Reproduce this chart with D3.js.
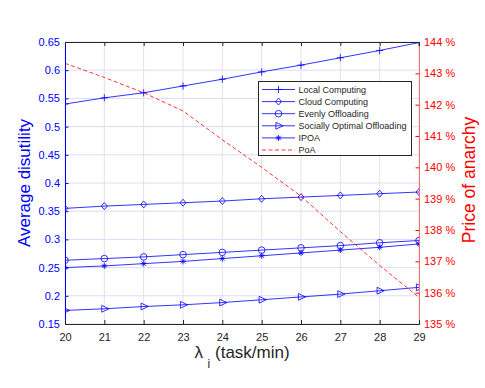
<!DOCTYPE html>
<html>
<head>
<meta charset="utf-8">
<script src="https://cdn.jsdelivr.net/npm/d3@7"></script>
<style>
  html, body { margin: 0; padding: 0; background: #fff; }
  svg { display: block; font-family: "Liberation Sans", Arial, sans-serif; }
</style>
</head>
<body>
<svg id="chart" width="485" height="388"></svg>
<script>
// ---- data ----
const lambdas = [20, 21, 22, 23, 24, 25, 26, 27, 28, 29];
const localComputing   = [0.540, 0.551, 0.560, 0.572, 0.584, 0.597, 0.609, 0.622, 0.635, 0.649];
const cloudComputing   = [0.355, 0.359, 0.362, 0.365, 0.368, 0.372, 0.375, 0.378, 0.381, 0.384];
const evenlyOffloading = [0.263, 0.266, 0.269, 0.273, 0.277, 0.281, 0.285, 0.289, 0.294, 0.298];
const sociallyOptimal  = [0.174, 0.177, 0.181, 0.184, 0.188, 0.193, 0.198, 0.203, 0.209, 0.215];
const ipoa             = [0.250, 0.253, 0.257, 0.261, 0.266, 0.271, 0.276, 0.281, 0.286, 0.292];
const poa              = [143.32, 142.87, 142.38, 141.80, 140.88, 140.00, 139.08, 137.95, 136.87, 135.85];
const seriesNames = ["Local Computing", "Cloud Computing", "Evenly Offloading", "Socially Optimal Offloading", "IPOA", "PoA"];
const xTicks = [20, 21, 22, 23, 24, 25, 26, 27, 28, 29];
const yLeftTicks = [0.15, 0.2, 0.25, 0.3, 0.35, 0.4, 0.45, 0.5, 0.55, 0.6, 0.65];
const yRightTicks = [135, 136, 137, 138, 139, 140, 141, 142, 143, 144];

// ---- layout ----
const L = 65, R = 419, T = 42, B = 324;
const svg = d3.select("#chart");
const x = d3.scaleLinear().domain([20, 29]).range([L, R]);
const yL = d3.scaleLinear().domain([0.15, 0.65]).range([B, T]);
const yR = d3.scaleLinear().domain([135, 144]).range([B, T]);

const BLUE = "#0000ff", RED = "#ff0000", DARK = "#262626";

// clip
svg.append("defs").append("clipPath").attr("id", "clip")
  .append("rect").attr("x", L).attr("y", T).attr("width", R - L).attr("height", B - T);

// grid
const grid = svg.append("g");
grid.selectAll(".vg").data(xTicks).join("line")
  .attr("x1", d => x(d)).attr("x2", d => x(d)).attr("y1", T).attr("y2", B)
  .attr("stroke", "#e2e2e2").attr("stroke-width", 1);
grid.selectAll(".hg").data(yLeftTicks).join("line")
  .attr("x1", L).attr("x2", R).attr("y1", d => yL(d)).attr("y2", d => yL(d))
  .attr("stroke", "#dcdcf7").attr("stroke-width", 1);

// markers
const markers = {
  plus: "M-3.6,0H3.6M0,-3.6V3.6",
  diamond: "M0,-3.5L3,0L0,3.5L-3,0Z",
  circle: "M3.3,0A3.3,3.3,0,1,1,-3.3,0A3.3,3.3,0,1,1,3.3,0Z",
  triangle: "M-2.6,-3.4L4.6,0L-2.6,3.4Z",
  asterisk: "M-3,0H3M0,-3V3M-2.1,-2.1L2.1,2.1M-2.1,2.1L2.1,-2.1"
};
const series = [
  { name: seriesNames[0], values: localComputing, marker: "plus" },
  { name: seriesNames[1], values: cloudComputing, marker: "diamond" },
  { name: seriesNames[2], values: evenlyOffloading, marker: "circle" },
  { name: seriesNames[3], values: sociallyOptimal, marker: "triangle" },
  { name: seriesNames[4], values: ipoa, marker: "asterisk" }
];

const plot = svg.append("g").attr("clip-path", "url(#clip)");
const lineL = d3.line().x((d, i) => x(lambdas[i])).y(d => yL(d));
series.forEach(s => {
  plot.append("path").attr("d", lineL(s.values))
    .attr("fill", "none").attr("stroke", BLUE).attr("stroke-width", 0.8);
  plot.selectAll(null).data(s.values).join("path")
    .attr("transform", (d, i) => `translate(${x(lambdas[i])},${yL(d)})`)
    .attr("d", markers[s.marker])
    .attr("fill", "none").attr("stroke", BLUE).attr("stroke-width", 0.8);
});
const lineR = d3.line().x((d, i) => x(lambdas[i])).y(d => yR(d));
plot.append("path").attr("d", lineR(poa))
  .attr("fill", "none").attr("stroke", RED).attr("stroke-width", 0.8)
  .attr("stroke-dasharray", "4,2.5");

// axes
const fmtL = d => d3.format(".2~f")(d);
const axL = svg.append("g").attr("transform", `translate(${L},0)`)
  .call(d3.axisLeft(yL).tickValues(yLeftTicks).tickFormat(fmtL).tickSize(-3.5).tickPadding(5));
axL.select(".domain").attr("stroke", BLUE);
axL.selectAll(".tick line").attr("stroke", BLUE);
axL.selectAll("text").attr("fill", BLUE).attr("font-size", 11);

const axR = svg.append("g").attr("transform", `translate(${R},0)`)
  .call(d3.axisRight(yR).tickValues(yRightTicks).tickFormat(d => d + " %").tickSize(-3.5).tickPadding(5));
axR.select(".domain").attr("stroke", "#ff6a6a");
axR.selectAll(".tick line").attr("stroke", RED);
axR.selectAll("text").attr("fill", RED).attr("font-size", 11);

const axB = svg.append("g").attr("transform", `translate(0,${B})`)
  .call(d3.axisBottom(x).tickValues(xTicks).tickFormat(d3.format("d")).tickSize(-4).tickPadding(9));
axB.select(".domain").attr("stroke", DARK);
axB.selectAll(".tick line").attr("stroke", DARK);
axB.selectAll("text").attr("fill", DARK).attr("font-size", 11);

const axT = svg.append("g").attr("transform", `translate(0,${T})`)
  .call(d3.axisTop(x).tickValues(xTicks).tickFormat("").tickSize(-4));
axT.select(".domain").attr("stroke", DARK);
axT.selectAll(".tick line").attr("stroke", DARK);
svg.selectAll(".domain").attr("stroke-width", 1);

// axis labels
svg.append("text").attr("transform", `translate(30,${(T + B) / 2}) rotate(-90)`)
  .attr("text-anchor", "middle").attr("fill", BLUE).attr("font-size", 17)
  .text("Average disutility");
svg.append("text").attr("transform", `translate(475,${(T + B) / 2 - 3}) rotate(-90)`)
  .attr("text-anchor", "middle").attr("fill", RED).attr("font-size", 17.5)
  .text("Price of anarchy");
const xl = svg.append("text").attr("x", (L + R) / 2).attr("y", 358)
  .attr("text-anchor", "middle").attr("fill", DARK).attr("font-size", 17);
xl.append("tspan").text("λ ");
xl.append("tspan").attr("dy", 10).attr("font-size", 12).text("i");
xl.append("tspan").attr("dy", -10).text(" (task/min)");

// legend
const lg = svg.append("g").attr("transform", "translate(258.5,81.5)");
lg.append("rect").attr("width", 153).attr("height", 74)
  .attr("fill", "#fff").attr("stroke", DARK).attr("stroke-width", 1);
const legendItems = series.map(s => ({ name: s.name, marker: s.marker, color: BLUE, dash: null }))
  .concat([{ name: seriesNames[5], marker: null, color: RED, dash: "4,2.5" }]);
legendItems.forEach((it, i) => {
  const cy = 8 + i * 12.1;
  const g = lg.append("g").attr("transform", `translate(0,${cy})`);
  g.append("line").attr("x1", 3.5).attr("x2", 36.5).attr("y1", 0).attr("y2", 0)
    .attr("stroke", it.color).attr("stroke-width", 0.8).attr("stroke-dasharray", it.dash);
  if (it.marker) g.append("path").attr("transform", "translate(20,0)").attr("d", markers[it.marker])
    .attr("fill", "none").attr("stroke", it.color).attr("stroke-width", 0.8);
  g.append("text").attr("x", 40).attr("y", 0).attr("dy", "0.35em")
    .attr("font-size", 9).attr("fill", DARK).text(it.name);
});
</script>
</body>
</html>
